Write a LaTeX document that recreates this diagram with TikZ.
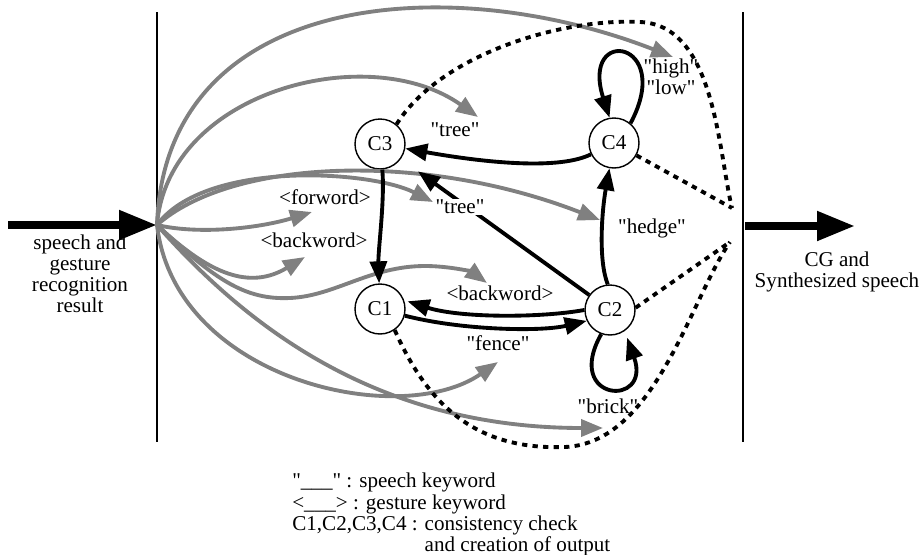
\documentclass[tikz,border=0pt]{standalone}
\usepackage{fontspec}
\setmainfont{Liberation Serif}[Ligatures=TeXOff]
\usetikzlibrary{arrows.meta}

\tikzset{
  check/.style={circle, draw, line width=0.8pt, minimum size=1cm, inner sep=0pt},
  trans/.style={line width=2.2pt, -{Triangle[length=0.44cm,width=0.34cm]}},
  inarc/.style={line width=2.2pt, black!50, -{Triangle[length=0.44cm,width=0.34cm]}},
  outarc/.style={line width=2.2pt, dash pattern=on 3pt off 3pt},
  bigarrow/.style={line width=4.5pt, -{Triangle[length=0.76cm,width=0.56cm]}},
  lbl/.style={inner sep=0.5pt},
}

\begin{document}
\begin{tikzpicture}[x=0.02cm, y=-0.02cm, font=\fontsize{12}{12}\selectfont]
    \useasboundingbox (0,0) rectangle (924,555);

    % Borders of the system
    \draw[line width=0.8pt] (157,12) -- (157,442);
    \draw[line width=0.8pt] (743,12) -- (743,442);

    % Input and output
    \coordinate (in) at (8,225);
    \coordinate (src) at (157,225);
    \coordinate (outa) at (745,226);
    \coordinate (outb) at (855,226);
    \draw[bigarrow] (in) -- (src);
    \draw[bigarrow] (outa) -- (outb);
    \node[align=center] (inlbl) at (80,274) {speech and\\gesture\\recognition\\result};
    \node[align=center] (outlbl) at (837,272) {CG and\\Synthesized speech};

    % Consistency checks
    \node[check] (c3) at (380,144) {C3};
    \node[check] (c4) at (614,143) {C4};
    \node[check] (c1) at (380,309) {C1};
    \node[check] (c2) at (610,310) {C2};

    % Ends of the keyword arcs
    \coordinate (g1) at (673,57);
    \coordinate (g2) at (478,117);
    \coordinate (g3) at (433,202);
    \coordinate (g4) at (600,220);
    \coordinate (g5) at (312,212);
    \coordinate (g6) at (305,257);
    \coordinate (g7) at (487,283);
    \coordinate (g8) at (498,362);
    \coordinate (g9) at (603,428);

    % Keyword arcs from the input
    \draw[inarc] (src) .. controls (165,-10) and (450,-30) .. (g1);
    \draw[inarc] (src) .. controls (168,90) and (370,40) .. (g2);
    \draw[inarc] (src) .. controls (205,160) and (370,170) .. (g3);
    \draw[inarc] (src) .. controls (230,160) and (420,150) .. (g4);
    \draw[inarc] (src) .. controls (200,235) and (260,228) .. (g5);
    \draw[inarc] (src) .. controls (210,275) and (250,290) .. (g6);
    \draw[inarc] (src) .. controls (215,280) and (245,300) .. (290,298)
        .. controls (335,296) and (370,266) .. (425,266)
        .. controls (450,266) and (472,272) .. (g7);
    \draw[inarc] (src) .. controls (175,380) and (400,430) .. (g8);
    \draw[inarc] (src) .. controls (250,330) and (380,428) .. (g9);

    % Output lines
    \coordinate (out1) at (732,208);
    \coordinate (out2) at (730,242);
    \draw[outarc] (c3.50) .. controls (440,55) and (560,18) .. (640,22)
        .. controls (715,25) and (718,150) .. (out1);
    \draw[outarc] (c4) -- (out1);
    \draw[outarc] (c2.5) -- (out2);
    \draw[outarc] (c1.305) .. controls (430,410) and (480,450) .. (565,447)
        .. controls (655,443) and (690,300) .. (out2);

    % Transitions
    \draw[trans] (c4) .. controls (555,172) and (470,160) .. (c3);
    \draw[trans] (c3) .. controls (385,200) and (378,250) .. (c1);
    \draw[trans, shorten >=12pt] (c2) -- (c3);
    \draw[trans, shorten >=2pt] (c2.180) .. controls (540,318) and (460,318) .. (c1.20);
    \draw[trans] (c1.345) .. controls (460,330) and (540,332) .. (c2.205);
    \draw[trans] (c2.95) .. controls (598,260) and (602,210) .. (c4);
    \draw[trans] (c4.50) .. controls (675,40) and (580,25) .. (c4.100);
    \draw[trans, shorten >=4pt] (c2.250) .. controls (563,402) and (652,408) .. (c2.305);

    % Keyword labels
    \node[lbl] (ltree1) at (455,130) {"tree"};
    \node[lbl, fill=white] (ltree2) at (460,207) {"tree"};
    \node[lbl] (lfor) at (325,197) {<forword>};
    \node[lbl] (lback1) at (314,240) {<backword>};
    \node[lbl] (lback2) at (500,293) {<backword>};
    \node[lbl] (lfence) at (498,343) {"fence"};
    \node[lbl] (lhedge) at (652,228) {"hedge"};
    \node[lbl] (lbrick) at (608,406) {"brick"};
    \node[lbl, align=center] (lhigh) at (671,77) {"high"\\"low"};

    % Legend
    \node[anchor=north west, align=left, inner sep=0pt] (legend) at (292,473)
        {"\_\_\_" : speech keyword\\<\_\_\_> : gesture keyword\\C1,C2,C3,C4 : consistency check\\\phantom{C1,C2,C3,C4 : }and creation of output};
\end{tikzpicture}
\end{document}
